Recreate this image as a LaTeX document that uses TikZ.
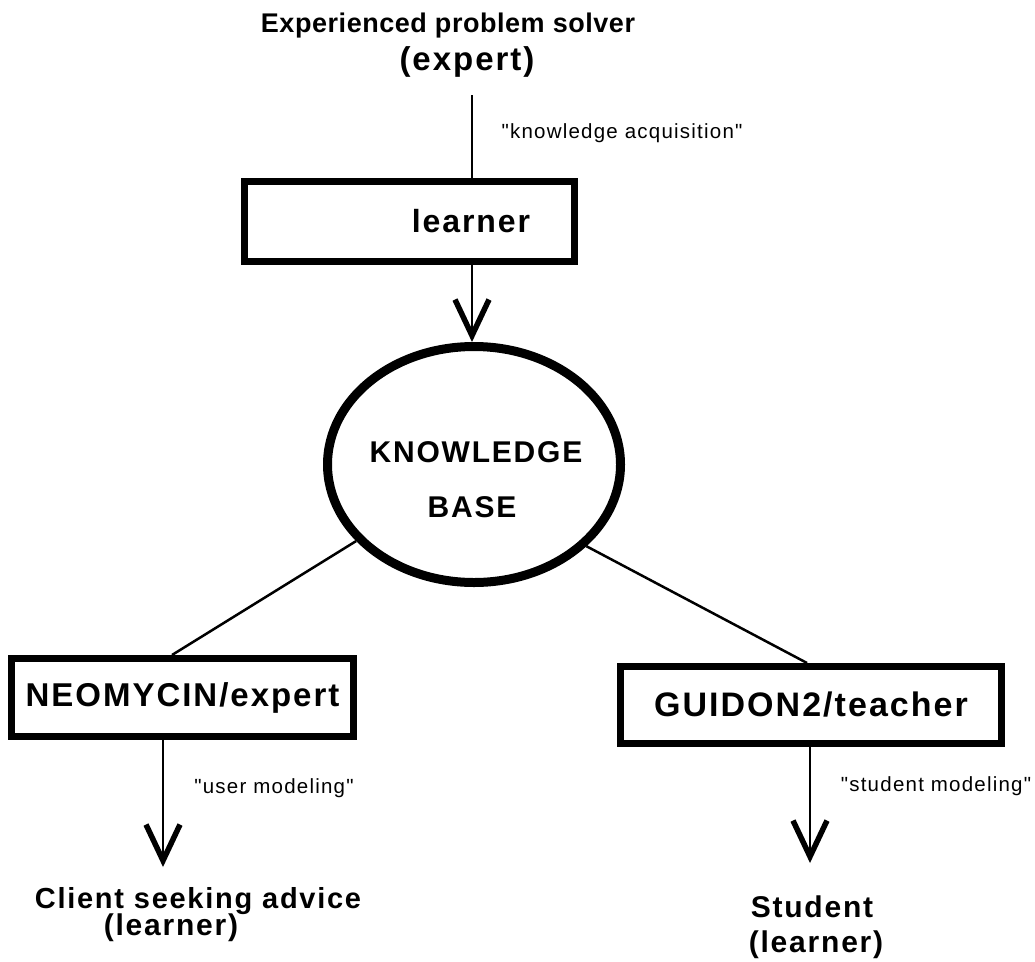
\documentclass[tikz,border=0pt]{standalone}
\usepackage{fontspec}
\setmainfont{Liberation Sans}[LetterSpace=6]
\newfontfamily\labfont{Liberation Sans}[LetterSpace=6]
\usetikzlibrary{shapes.geometric,arrows.meta}
\newcommand{\fsz}[1]{\fontsize{#1}{#1}\selectfont}
\begin{document}
\begin{tikzpicture}[x=1pt,y=-1pt,
  conn/.style={line width=2.5pt},
  arr/.style={line width=2.5pt,-{Straight Barb[length=36pt,width=34pt,line width=5.5pt]}},
  box/.style={draw,line width=7pt,inner sep=0pt},
  big/.style={font=\bfseries\fsz{#1}},
  lab/.style={font=\labfont\fsz{20.5}},
]
\useasboundingbox (0,0) rectangle (1035,961);
% top texts
\node[font=\bfseries\fsz{27}\addfontfeatures{LetterSpace=2},anchor=base] (t1) at (448,32) {Experienced problem solver};
\node[big=33,anchor=base] (t2) at (467,70) {(expert)};
\coordinate (top) at (472,95);
% learner box
\node[box,minimum width=330pt,minimum height=80pt] (lbox) at (409.5,221.5) {};
\node[big=32,anchor=base] (ltext) at (471,232) {learner};
\node[lab,anchor=west] (ka) at (498,133) {"knowledge acquisition"};
% knowledge base
\node[draw,ellipse,line width=9pt,minimum width=293pt,minimum height=236pt,inner sep=0pt] (kb) at (474,464.5) {};
\node[big=30,anchor=base] (kb1) at (476,462) {KNOWLEDGE};
\node[big=30,anchor=base] (kb2) at (472,517) {BASE};
% lower boxes
\node[box,big=33,minimum width=342pt,minimum height=78pt] (neo) at (182.5,697.5) {NEOMYCIN/expert};
\node[box,big=34,minimum width=381pt,minimum height=77pt] (gui) at (811,705) {GUIDON2/teacher};
% labels
\node[lab] (um) at (274,788) {"user modeling"};
\node[lab] (sm) at (936,786) {"student modeling"};
% bottom texts
\node[big=29,anchor=base] (c1) at (198,908) {Client seeking advice};
\node[big=30,anchor=base] (c2) at (171,935) {(learner)};
\node[big=30,anchor=base] (s1) at (812,917) {Student};
\node[big=30,anchor=base] (s2) at (816,952) {(learner)};
\coordinate (ctip) at (163,867);
\coordinate (stip) at (810,863);
% connectors
\draw[conn] (top) -- (top |- lbox.north);
\draw[arr] (top |- lbox.south) -- (top |- kb.north);
\draw[conn] (kb.213) -- ([xshift=-10.5pt]neo.north);
\draw[conn] (kb.-36) -- ([xshift=-4pt]gui.north);
\draw[arr] ([xshift=-19.5pt]neo.south) -- (ctip);
\draw[arr] ([xshift=-1pt]gui.south) -- (stip);
\end{tikzpicture}
\end{document}
